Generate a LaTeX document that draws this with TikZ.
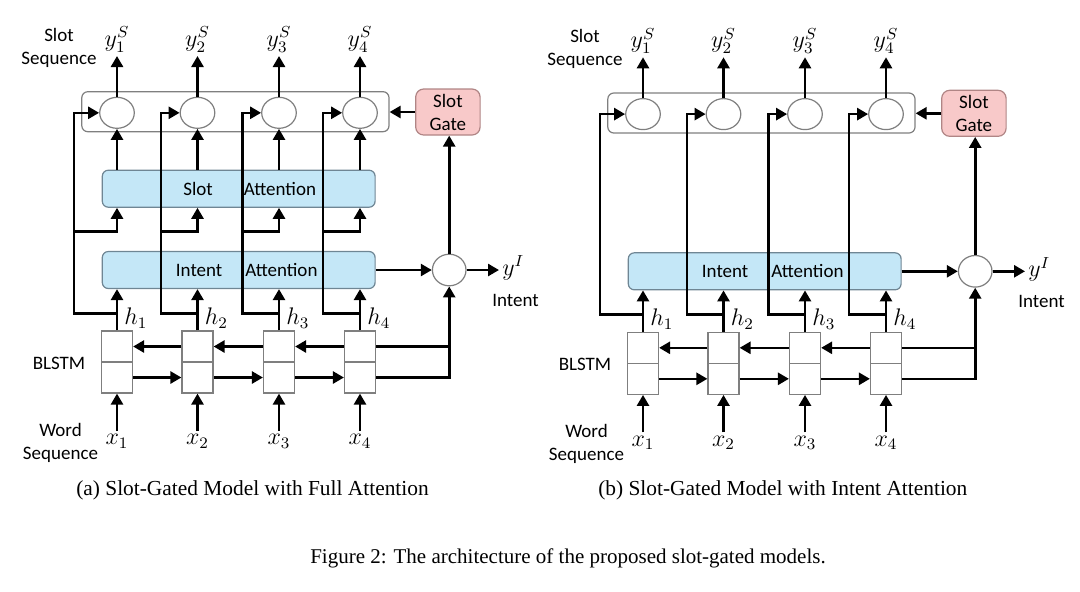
\documentclass[tikz,border=0pt]{standalone}
\usepackage{fontspec}
\setmainfont{Liberation Serif}
\newfontfamily\calibri{Carlito}
\usepackage{tikz}
\usetikzlibrary{arrows.meta,shapes.geometric}
\definecolor{attblue}{HTML}{C4E7F7}
\definecolor{attedge}{HTML}{6F8694}
\definecolor{gatepink}{HTML}{F8C9C9}
\definecolor{gateedge}{HTML}{B08585}
\definecolor{celledge}{HTML}{7F7F7F}

\begin{document}
\begin{tikzpicture} [x=0.5pt,y=-0.5pt,
    >={Triangle[length=5.5pt,width=6pt]},
    flow/.style={line width=1.3pt,->},
    wire/.style={line width=1.3pt},
    txt/.style={font=\calibri\fontsize{9.5}{11.5}\selectfont,align=center,inner sep=1pt},
    var/.style={font=\large,inner sep=1.5pt},
    gatecirc/.style={ellipse,draw=celledge,fill=white,line width=0.6pt,
      minimum width=17.3pt,minimum height=15.5pt,inner sep=0pt},
    gatebox/.style={draw=celledge,rounded corners=3pt,line width=0.6pt,
      minimum width=153.6pt,minimum height=20pt},
    attn/.style={txt,draw=attedge,fill=attblue,rounded corners=3pt,line width=0.6pt,
      minimum width=136.4pt,minimum height=18.5pt},
    slotgate/.style={txt,draw=gateedge,fill=gatepink,rounded corners=4pt,line width=0.6pt,
      minimum width=32.2pt,minimum height=23pt},
    cell/.style={draw=celledge,fill=white,line width=0.6pt,
      minimum width=15.5pt,minimum height=15.5pt,inner sep=0pt},
    capt/.style={font=\fontsize{10.7}{13}\selectfont,inner sep=0pt}]
    \useasboundingbox (0,0) rectangle (1080,591);

    % (a) full attention
    \node[gatebox] (a-gates) at (235.4,111.7) {};
    \node[slotgate] (a-sg) at (447.9,112) {Slot\\Gate};
    \node[attn] (a-sa) at (238.7,188.7) {\hspace*{11pt}Slot\hspace{15.5pt}Attention};
    \node[attn] (a-ia) at (238.7,270) {\hspace*{8pt}Intent\hspace{11.5pt}Attention};
    \node[gatecirc,minimum width=16.8pt,minimum height=15.8pt] (a-ic) at (449.2,270) {};
    \node[txt] (a-slotseq) at (59,47.7) {Slot\\Sequence};
    \node[txt] (a-blstm) at (59,363.3) {BLSTM};
    \node[txt] (a-wordseq) at (60.5,442.5) {Word\\Sequence};
    \node[var,anchor=west] (a-yi) at (499,268) {$y^I$};
    \node[txt] (a-intent) at (515.5,300) {Intent};
    \node[capt] (a-cap) at (252.5,490.5) {(a) Slot-Gated Model with Full Attention};

    \foreach \i/\c/\b in {1/117/74,2/197.5/161,3/279/242.5,4/360/323}{
      \node[gatecirc] (a-g\i) at (\c,112.8) {};
      \node[var,anchor=south] (a-y\i) at (\c,56) {$y^S_\i$};
      \node[cell] (a-bw\i) at (\c,346.5) {};
      \node[cell] (a-fw\i) at (\c,377.5) {};
      \node[var,anchor=north] (a-x\i) at (\c,431) {$x_\i$};
      \node[var,anchor=west] (a-h\i) at (\c+4,318) {$h_\i$};
      \coordinate (a-hj\i) at (\c,313.3);
      \coordinate (a-sj\i) at (\b,231.7);

      \draw[flow] (a-x\i.north) -- (a-fw\i.south);
      \draw[flow] (a-bw\i.north) -- (a-ia.south -| a-bw\i);
      \draw[flow] (a-hj\i) -- (a-hj\i -| a-sj\i) |- (a-g\i.west);
      \draw[flow] (a-sj\i) -| (a-sa.south -| a-g\i);
      \draw[flow] (a-sa.north -| a-g\i) -- (a-g\i.south);
      \draw[flow] (a-g\i.north) -- (a-y\i.south);
    }
    \foreach \i/\j in {1/2,2/3,3/4}{
      \draw[flow] (a-fw\i.east) -- (a-fw\j.west);
      \draw[flow] (a-bw\j.west) -- (a-bw\i.east);
    }
    \draw[wire] (a-bw4.east) -- (a-bw4 -| a-ic);
    \draw[flow] (a-fw4.east) -| (a-ic.south);
    \draw[flow] (a-ia.east) -- (a-ic.west);
    \draw[flow] (a-ic.east) -- (a-ic.east -| a-yi.west);
    \draw[flow] (a-ic.north) -- (a-ic |- a-sg.south);
    \draw[flow] (a-sg.west) -- (a-gates.east |- a-sg.west);

    % (b) intent attention only
    \begin{scope}[shift={(526,1.3)}]
    \node[gatebox] (b-gates) at (235.4,111.7) {};
    \node[slotgate] (b-sg) at (447.9,112) {Slot\\Gate};
    \node[attn] (b-ia) at (238.7,270) {\hspace*{8pt}Intent\hspace{11.5pt}Attention};
    \node[gatecirc,minimum width=16.8pt,minimum height=15.8pt] (b-ic) at (449.2,270) {};
    \node[txt] (b-slotseq) at (59,47.7) {Slot\\Sequence};
    \node[txt] (b-blstm) at (59,363.3) {BLSTM};
    \node[txt] (b-wordseq) at (60.5,442.5) {Word\\Sequence};
    \node[var,anchor=west] (b-yi) at (499,268) {$y^I$};
    \node[txt] (b-intent) at (515.5,300) {Intent};
    \node[capt] (b-cap) at (256.8,489) {(b) Slot-Gated Model with Intent Attention};

    \foreach \i/\c/\b in {1/117/74,2/197.5/161,3/279/242.5,4/360/323}{
      \node[gatecirc] (b-g\i) at (\c,112.8) {};
      \node[var,anchor=south] (b-y\i) at (\c,56) {$y^S_\i$};
      \node[cell] (b-bw\i) at (\c,346.5) {};
      \node[cell] (b-fw\i) at (\c,377.5) {};
      \node[var,anchor=north] (b-x\i) at (\c,431) {$x_\i$};
      \node[var,anchor=west] (b-h\i) at (\c+4,318) {$h_\i$};
      \coordinate (b-hj\i) at (\c,313.3);
      \coordinate (b-bx\i) at (\b,313.3);

      \draw[flow] (b-x\i.north) -- (b-fw\i.south);
      \draw[flow] (b-bw\i.north) -- (b-ia.south -| b-bw\i);
      \draw[flow] (b-hj\i) -- (b-bx\i) |- (b-g\i.west);
      \draw[flow] (b-g\i.north) -- (b-y\i.south);
    }
    \foreach \i/\j in {1/2,2/3,3/4}{
      \draw[flow] (b-fw\i.east) -- (b-fw\j.west);
      \draw[flow] (b-bw\j.west) -- (b-bw\i.east);
    }
    \draw[wire] (b-bw4.east) -- (b-bw4 -| b-ic);
    \draw[flow] (b-fw4.east) -| (b-ic.south);
    \draw[flow] (b-ia.east) -- (b-ic.west);
    \draw[flow] (b-ic.east) -- (b-ic.east -| b-yi.west);
    \draw[flow] (b-ic.north) -- (b-ic |- b-sg.south);
    \draw[flow] (b-sg.west) -- (b-gates.east |- b-sg.west);
    \end{scope}

    \node[capt,font=\fontsize{10.5}{13}\selectfont] (fig-cap) at (568,558)
      {Figure 2: The architecture of the proposed slot-gated models.};
\end{tikzpicture}
\end{document}
